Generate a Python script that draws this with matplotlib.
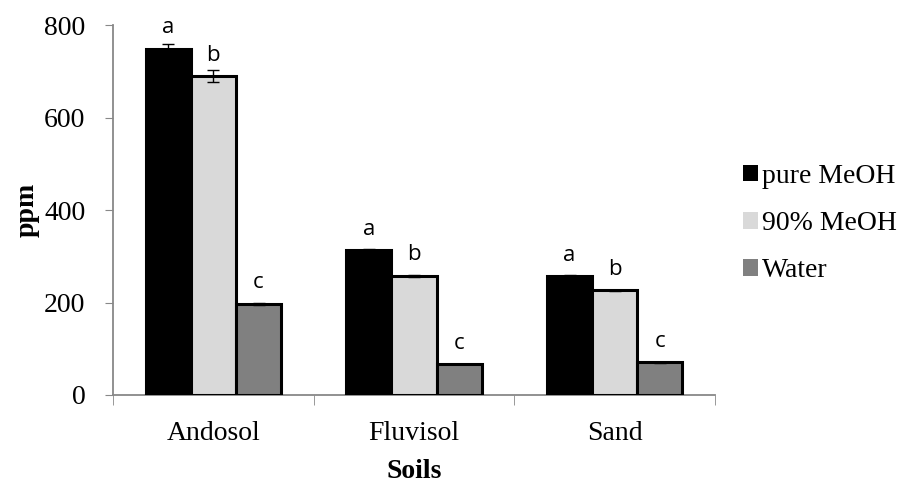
import numpy as np
import matplotlib
matplotlib.use("Agg")
import matplotlib.pyplot as plt
from matplotlib.patches import Patch

# data
soils = ["Andosol", "Fluvisol", "Sand"]
series = ["pure MeOH", "90% MeOH", "Water"]
pure_meoh = [749, 313, 257]
meoh_90 = [690, 258, 226]
water = [197, 67, 71]
pure_err = [11, 2, 2]
meoh_90_err = [12, 2, 2]
water_err = [2, 1, 1]
letters = ["a", "b", "c"]
colors = ["#000000", "#d9d9d9", "#808080"]

plt.rcParams["font.family"] = ["Liberation Serif", "DejaVu Serif"]

fig = plt.figure(figsize=(9.12, 4.84), dpi=100)
ax = fig.add_axes([0.124, 0.184, 0.66, 0.764])

x = np.arange(len(soils))
width = 0.225
values = [pure_meoh, meoh_90, water]
errors = [pure_err, meoh_90_err, water_err]

for k, (vals, errs, col) in enumerate(zip(values, errors, colors)):
    pos = x + (k - 1) * width
    ax.bar(pos, vals, width=width, color=col, edgecolor="black", linewidth=2.2,
           zorder=3)
    ax.errorbar(pos, vals, yerr=errs, fmt="none", ecolor="black", elinewidth=1,
                capsize=4, capthick=1, zorder=4)
    # significance letters sit a fixed distance above the bar top
    for p, v in zip(pos, vals):
        ax.annotate(letters[k], (p, v), xytext=(0, 7.5), textcoords="offset points",
                    ha="center", va="bottom", fontsize=16,
                    family=["Open Sans", "DejaVu Sans"])

ax.set_xlim(-0.5, 2.5)
ax.set_ylim(0, 800)
ax.set_yticks([0, 200, 400, 600, 800])
ax.set_xticks(x)
ax.set_xticklabels(soils)
ax.set_xticks([-0.5, 0.5, 1.5, 2.5], minor=True)
ax.tick_params(axis="x", which="major", length=0, labelsize=20, pad=19)
ax.tick_params(axis="x", which="minor", length=7, color="#888888", direction="out")
ax.tick_params(axis="y", labelsize=20, length=6, color="#888888", direction="out",
               pad=14)

for s in ["top", "right"]:
    ax.spines[s].set_visible(False)
ax.spines["left"].set_color("#888888")
ax.spines["bottom"].set_color("#888888")
ax.spines["left"].set_linewidth(1.3)
ax.spines["bottom"].set_linewidth(1.3)

ax.set_ylabel("ppm", fontsize=20, fontweight="bold", labelpad=3)
ax.set_xlabel("Soils", fontsize=20, fontweight="bold", labelpad=9)

handles = [Patch(facecolor=c, edgecolor="none") for c in colors]
fig.legend(handles, series, loc="center left", bbox_to_anchor=(0.802, 0.538),
           frameon=False, fontsize=20, handlelength=0.55, handleheight=0.55,
           handletextpad=0.15, labelspacing=0.8, borderaxespad=0)

fig.savefig("out.png", dpi=100)
